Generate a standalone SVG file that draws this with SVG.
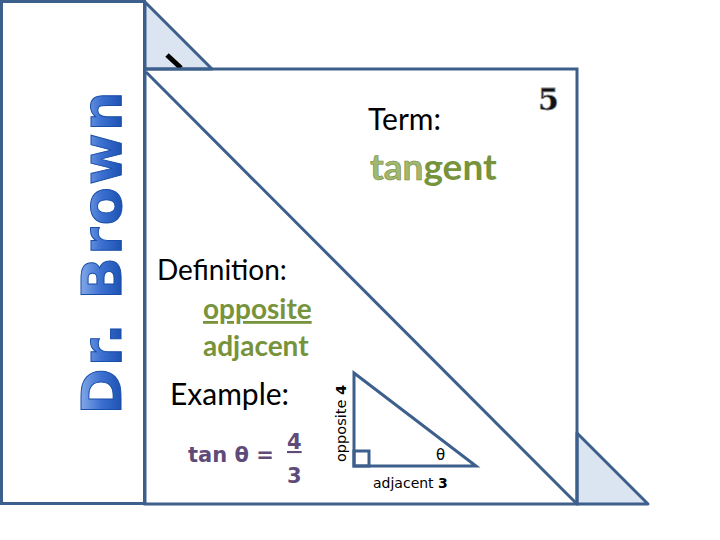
<svg xmlns="http://www.w3.org/2000/svg" width="720" height="540" viewBox="0 0 720 540">
<defs>
<linearGradient id="bg" x1="0" y1="0" x2="0" y2="1">
<stop offset="0" stop-color="#a9c8f5"/><stop offset="0.5" stop-color="#3b6fd0"/><stop offset="1" stop-color="#0b3fa0"/>
</linearGradient>
<style>
.ln{fill:none;stroke:#3d5f8c;stroke-width:3}
.tri{fill:#dbe5f2;stroke:#3d5f8c;stroke-width:3;stroke-linejoin:round}
.t{font-family:Lato,"Open Sans",sans-serif;fill:#000}
.g{font-family:Lato,"Open Sans",sans-serif;font-weight:bold;fill:#77933c}
.p{font-family:"DejaVu Sans",sans-serif;font-weight:bold;fill:#5f4b7a}
.s{font-family:"DejaVu Sans",sans-serif;fill:#000}
</style>
</defs>
<rect width="720" height="540" fill="#fff"/>
<g id="sidebar">
<rect class="ln" x="1.5" y="1.5" width="143" height="502"/>
<text transform="translate(121,252) rotate(-90)" text-anchor="middle" font-family="'DejaVu Sans',sans-serif" font-weight="bold" font-size="56" fill="url(#bg)" stroke="#1a4fa8" stroke-width="1" letter-spacing="2">Dr. Brown</text>
</g>
<g id="card">
<polygon class="tri" points="145,2 212,69 145,69"/>
<line x1="167" y1="55" x2="181" y2="68" stroke="#000" stroke-width="5"/>
<polygon class="tri" points="577,433 648,504 577,504"/>
<rect class="ln" x="145" y="69" width="432" height="435"/>
<line class="ln" x1="146" y1="72" x2="576" y2="503"/>
<text class="t" x="368" y="130" font-size="30">Term:</text>
<text x="538" y="110" font-family="'DejaVu Serif',serif" font-weight="bold" font-size="30" fill="#111" stroke="#888" stroke-width="0.8">5</text>
<text class="g" x="370" y="180" font-size="37"><tspan fill="#a2b870" stroke="#6f8a3a" stroke-width="0.6">tan</tspan>gent</text>
<text class="t" x="157" y="280" font-size="28">Definition:</text>
<text class="g" x="203" y="319" font-size="28" text-decoration="underline">opposite</text>
<text class="g" x="203" y="356" font-size="28">adjacent</text>
<text class="t" x="170" y="405" font-size="30">Example:</text>
<text class="p" x="188" y="462" font-size="21">tan θ =</text>
<text class="p" x="287" y="449" font-size="21" text-decoration="underline">4</text>
<text class="p" x="287" y="483" font-size="21">3</text>
</g>
<g id="triangle">
<polygon fill="none" stroke="#3d5f8c" stroke-width="3" points="354,373 476,466 354,466"/>
<rect fill="none" stroke="#3d5f8c" stroke-width="3" x="354" y="451" width="15" height="15"/>
<text class="s" x="436" y="460" font-size="15">θ</text>
<text class="s" x="373" y="488" font-size="14">adjacent <tspan font-weight="bold">3</tspan></text>
<text class="s" transform="translate(346,462) rotate(-90)" font-size="14.5">opposite <tspan font-weight="bold">4</tspan></text>
</g>
</svg>
